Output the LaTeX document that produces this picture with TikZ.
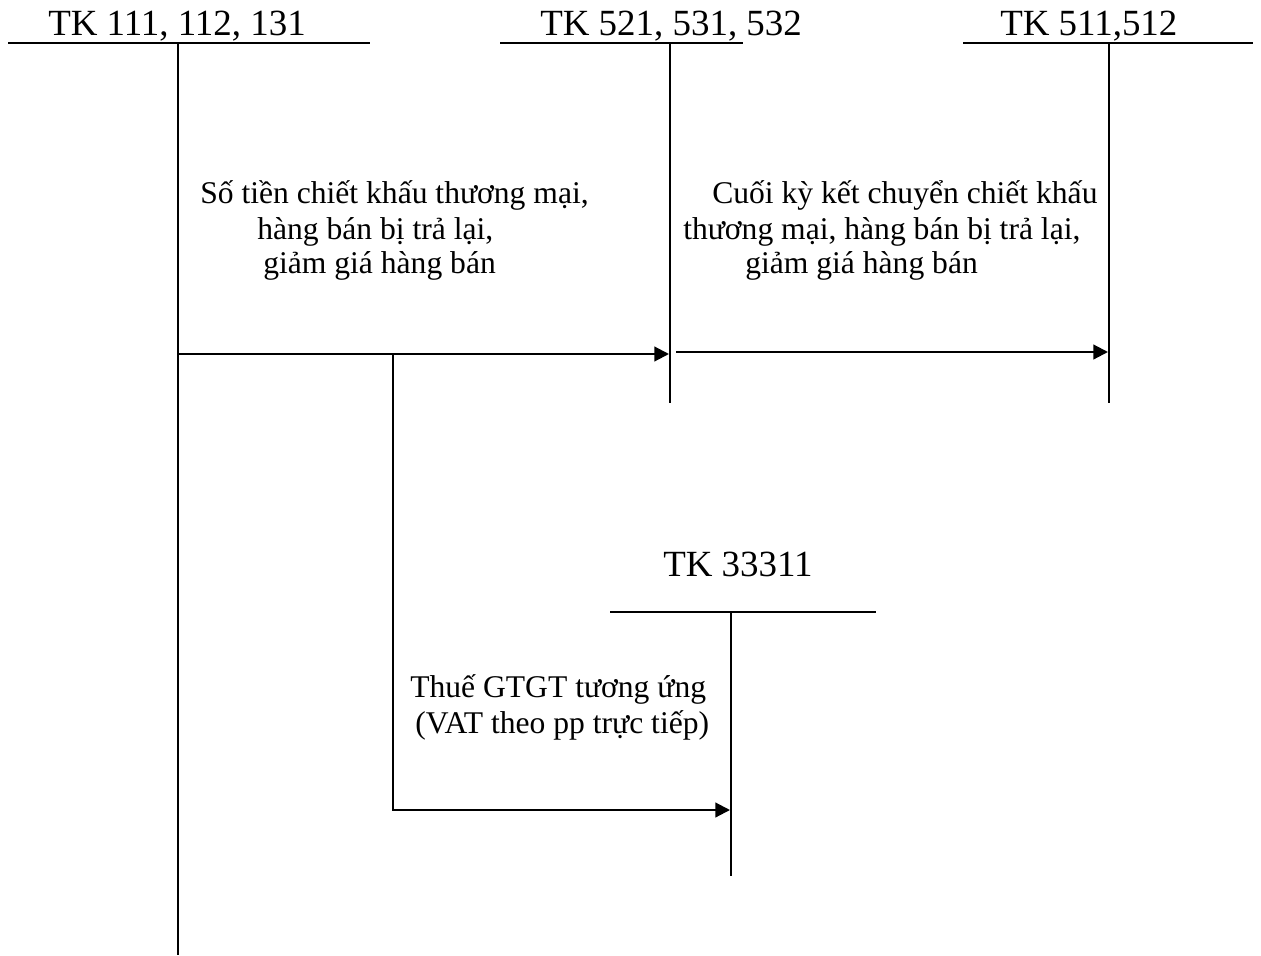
\documentclass[tikz,border=0pt]{standalone}
\usepackage{fontspec}
\setmainfont{Liberation Serif}
\usetikzlibrary{arrows.meta}
\begin{document}
\begin{tikzpicture}[x=0.75pt,y=-0.75pt,
  acc/.style={line width=1.6pt},
  flow/.style={line width=1.6pt,-{Triangle[length=11pt,width=11pt]}},
  ttl/.style={anchor=base west,inner sep=0pt,font=\fontsize{27.7}{33}\selectfont},
  txt/.style={anchor=base west,inner sep=0pt,font=\fontsize{23.7}{28}\selectfont}]
\useasboundingbox (0,0) rectangle (1261,956);
% account titles
\node[ttl] (t1) at (48,36) {TK 111, 112, 131};
\node[ttl] (t2) at (540,36) {TK 521, 531, 532};
\node[ttl] (t3) at (1000,36) {TK 511,512};
\node[ttl] (t4) at (663,576) {TK 33311};
% T-account coordinates
\coordinate (a1l) at (8,43);   \coordinate (a1r) at (370,43);
\coordinate (a1t) at (178,43); \coordinate (a1b) at (178,955);
\coordinate (a2l) at (500,43); \coordinate (a2r) at (743,43);
\coordinate (a2t) at (670,43); \coordinate (a2b) at (670,403);
\coordinate (a3l) at (963,43); \coordinate (a3r) at (1253,43);
\coordinate (a3t) at (1109,43); \coordinate (a3b) at (1109,403);
\coordinate (a4l) at (610,612); \coordinate (a4r) at (876,612);
\coordinate (a4t) at (731,612); \coordinate (a4b) at (731,876);
\draw[acc] (a1l) -- (a1r) (a1t) -- (a1b);
\draw[acc] (a2l) -- (a2r) (a2t) -- (a2b);
\draw[acc] (a3l) -- (a3r) (a3t) -- (a3b);
\draw[acc] (a4l) -- (a4r) (a4t) -- (a4b);
% flows
\coordinate (f1s) at (178,354); \coordinate (f1e) at (669,354);
\coordinate (f2s) at (676,352); \coordinate (f2e) at (1108,352);
\coordinate (br) at (393,354);  \coordinate (f3e) at (730,810);
\draw[flow] (f1s) -- (f1e);
\draw[flow] (f2s) -- (f2e);
\draw[flow] (br) |- (f3e);
% labels
\node[txt] (l1) at (200,203) {Số tiền chiết khấu thương mại,};
\node[txt] (l2) at (257,239) {hàng bán bị trả lại,};
\node[txt] (l3) at (263,273) {giảm giá hàng bán};
\node[txt] (r1) at (712,203) {Cuối kỳ kết chuyển chiết khấu};
\node[txt] (r2) at (683,239) {thương mại, hàng bán bị trả lại,};
\node[txt] (r3) at (745,273) {giảm giá hàng bán};
\node[txt] (v1) at (410,697) {Thuế GTGT tương ứng};
\node[txt] (v2) at (415,733) {(VAT theo pp trực tiếp)};
\end{tikzpicture}
\end{document}
